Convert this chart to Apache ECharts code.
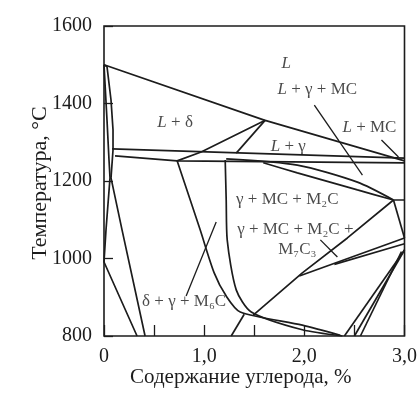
<!DOCTYPE html>
<html><head><meta charset="utf-8">
<script src="https://cdn.jsdelivr.net/npm/echarts@6/dist/echarts.min.js"></script>
<style>html,body{margin:0;padding:0;background:#fff}#c{width:420px;height:394px}</style>
</head><body><div id="c"></div>
<script>
// axis ticks
const xTicks = [0, 0.5, 1, 1.5, 2, 2.5, 3];
const yTicks = [800, 1000, 1200, 1400, 1600];
// phase boundaries [carbon %, temperature °C]
const liquidus = [[0,1500],[1.6,1357],[3.0,1252]];
const leftLineA = [[0,1500],[0.01,1497],[0.03,1357],[0.05,1254],[0.06,1208],[0.02,1074],[0,991],[0.33,800]];
const leftLineB = [[0,1500],[0.03,1495],[0.07,1409],[0.09,1332],[0.09,1280],[0.07,1208],[0.18,1074],[0.41,800]];
const upperHoriz = [[0.08,1283],[3.0,1259]];
const lowerHoriz = [[0.11,1265],[0.73,1252],[3.0,1247]];
const tieA = [[0.73,1252],[0.97,1275],[1.61,1357]];
const tieB = [[1.32,1272],[1.61,1357]];
const curveC1 = [[1.22,1257],[1.93,1241],[2.53,1197],[2.89,1151]];
const curveC2 = [[1.59,1247],[1.93,1221],[2.53,1177],[2.89,1151]];
const gammaBound = [[1.21,1254],[1.22,1151],[1.23,1048],[1.32,919],[1.47,862],[1.98,816],[2.38,800]];
const diagL1 = [[0.73,1252],[0.96,1074],[1.10,963],[1.22,903],[1.36,862],[1.98,828],[2.36,802]];
const diagL3 = [[2.89,1151],[2.43,1053],[1.98,963],[1.49,854]];
const edgeA = [[2.89,1151],[3.0,1053]];
const edgeFlat = [[2.89,1151],[3.0,1151]];
const rightR2 = [[3.0,1053],[1.95,955]];
const rightR3 = [[3.0,1038],[2.3,985]];
const fan1 = [[3.0,1022],[2.40,800]];
const fan2 = [[3.0,1022],[2.50,800]];
const fan3 = [[2.97,1018],[2.56,800]];
const shortBottom = [[1.40,856],[1.27,800]];
// leader lines
const leadLGMC = [[2.10,1396],[2.58,1215]];
const leadLMC = [[2.77,1306],[2.94,1262]];
const leadDelta = [[0.82,903],[1.12,1094]];
const leadM7 = [[2.16,1048],[2.33,1004]];
// region labels
const labelText = ['{i|L}', '{i|L} + γ + MC', '{i|L} + MC', '{i|L} + γ', '{i|L} + δ', 'γ + MC + M₂C', 'γ + MC + M₂C +', 'M₇C₃', 'δ + γ + M₆C'];
const labelX = [1.82, 2.13, 2.65, 1.84, 0.71, 1.83, 1.91, 1.93, 0.80];
const labelT = [1504, 1437, 1339, 1288, 1352, 1153, 1076, 1024, 888];

const curved = new Set(['curveC1','curveC2','gammaBound','diagL1']);
const lines = {liquidus,leftLineA,leftLineB,upperHoriz,lowerHoriz,tieA,tieB,curveC1,curveC2,gammaBound,diagL1,diagL3,edgeA,edgeFlat,rightR2,rightR3,fan1,fan2,fan3,shortBottom,leadLGMC,leadLMC,leadDelta,leadM7};
const series = Object.keys(lines).map(k => ({
  name: k, type: 'line', data: lines[k], showSymbol: false, symbol: 'none',
  smooth: curved.has(k) ? 0.25 : false, silent: true,
  lineStyle: {color: '#1c1c1c', width: k.startsWith('lead') ? 1.3 : 1.7}
}));
series.push({
  type: 'scatter', symbolSize: 0, silent: true,
  data: labelText.map((t, i) => ({value: [labelX[i], labelT[i]], name: t})),
  label: {show: true, position: 'inside', formatter: p => p.name,
    fontFamily: 'Liberation Serif', fontSize: 17, color: '#1c1c1c',
    rich: {i: {fontStyle: 'italic', fontFamily: 'Liberation Serif', fontSize: 17, color: '#1c1c1c'}}}
});

const chart = echarts.init(document.getElementById('c'), null, {renderer: 'canvas'});
chart.setOption({
  animation: false,
  grid: {left: 104, right: 12, top: 26, bottom: 58, show: true, borderColor: '#1c1c1c', borderWidth: 1.6},
  xAxis: {type: 'value', min: 0, max: 3, interval: 0.5,
    axisLine: {show: false}, splitLine: {show: false},
    axisTick: {show: true, inside: true, length: 11, lineStyle: {color: '#1c1c1c', width: 1.3}},
    axisLabel: {margin: 11, fontFamily: 'Liberation Serif', fontSize: 20, color: '#1c1c1c',
      formatter: v => (Math.abs(v % 1) < 1e-9) ? (v === 0 ? '0' : v.toFixed(1).replace('.', ',')) : ''}},
  yAxis: {type: 'value', min: 800, max: 1600, interval: 200,
    axisLine: {show: false}, splitLine: {show: false},
    axisTick: {show: true, inside: true, length: 9, lineStyle: {color: '#1c1c1c', width: 1.3}},
    axisLabel: {margin: 12, fontFamily: 'Liberation Serif', fontSize: 20, color: '#1c1c1c',
      formatter: v => String(v)}},
  graphic: [
    {type: 'text', left: 130, top: 367, style: {text: 'Содержание углерода, %', font: '21px "Liberation Serif"', fill: '#1c1c1c'}},
    {type: 'text', x: 40, y: 183, rotation: Math.PI / 2, style: {text: 'Температура, °C', font: '22px "Liberation Serif"', fill: '#1c1c1c', align: 'center', verticalAlign: 'middle'}}
  ],
  series
});
</script></body></html>
